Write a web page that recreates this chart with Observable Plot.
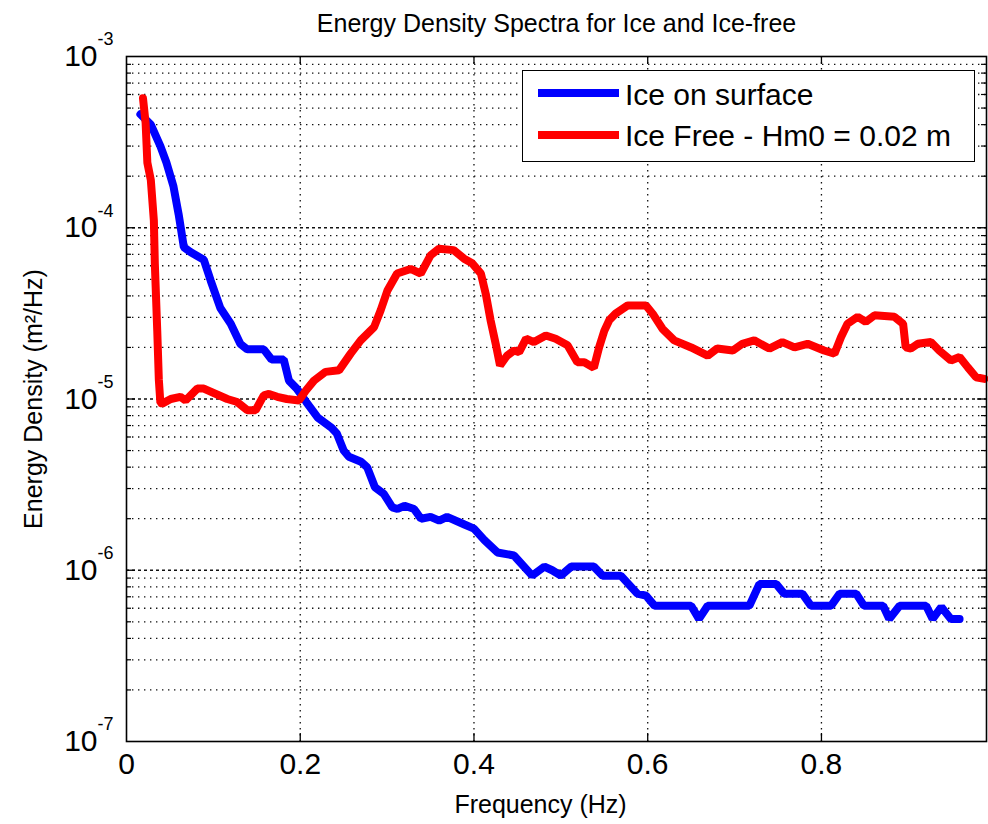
<!DOCTYPE html>
<html>
<head>
<meta charset="utf-8">
<script src="https://cdn.jsdelivr.net/npm/d3@7"></script>
<script src="https://cdn.jsdelivr.net/npm/@observablehq/plot@0.6"></script>
<style>
  html, body { margin: 0; padding: 0; background: #fff; }
  #wrap { position: relative; width: 988px; height: 824px; font-family: "Liberation Sans", Arial, sans-serif; }
  #legend { position: absolute; left: 522px; top: 70px; width: 453px; height: 92px; box-sizing: border-box;
            border: 1.5px solid #000; background: #fff; }
  .sw { position: absolute; left: 15px; width: 81px; height: 8px; }
  .lt { position: absolute; left: 102px; font-size: 30px; line-height: 30px; white-space: nowrap; color: #000; }
</style>
</head>
<body>
<div id="wrap"></div>
<script>
// ---- data ----
const titleText = "Energy Density Spectra for Ice and Ice-free";
const xLabel = "Frequency (Hz)";
const yLabel = "Energy Density (m\u00B2/Hz)";
const seriesNames = ["Ice on surface", "Ice Free - Hm0 = 0.02 m"];
const seriesColors = ["#0000ff", "#ff0000"];

const xTicks = [0, 0.2, 0.4, 0.6, 0.8];
const xTickLabels = ["0", "0.2", "0.4", "0.6", "0.8"];
const yDecades = [1e-7, 1e-6, 1e-5, 1e-4, 1e-3];
const yExponents = ["-7", "-6", "-5", "-4", "-3"];

const iceFreq = [0.016,0.028,0.039,0.046,0.054,0.060,0.066,0.074,0.089,0.097,0.108,0.120,0.131,0.139,0.158,0.167,0.181,0.187,0.196,0.207,0.220,0.236,0.242,0.250,0.256,0.270,0.277,0.286,0.296,0.306,0.312,0.320,0.331,0.339,0.350,0.360,0.369,0.389,0.400,0.412,0.427,0.446,0.467,0.481,0.490,0.500,0.512,0.538,0.548,0.569,0.588,0.598,0.608,0.650,0.659,0.669,0.717,0.7285,0.748,0.757,0.778,0.788,0.811,0.821,0.840,0.849,0.871,0.878,0.890,0.9205,0.928,0.938,0.949,0.959];
const iceVal = [4.6e-4,4.0e-4,3.0e-4,2.4e-4,1.75e-4,1.2e-4,7.7e-5,7.2e-5,6.5e-5,4.9e-5,3.4e-5,2.75e-5,2.1e-5,1.95e-5,1.95e-5,1.7e-5,1.7e-5,1.28e-5,1.15e-5,9.6e-6,7.8e-6,6.8e-6,6.3e-6,5.0e-6,4.6e-6,4.3e-6,4.0e-6,3.05e-6,2.8e-6,2.33e-6,2.28e-6,2.38e-6,2.28e-6,2.0e-6,2.05e-6,1.95e-6,2.05e-6,1.85e-6,1.75e-6,1.5e-6,1.27e-6,1.22e-6,9.3e-7,1.05e-6,1.0e-6,9.3e-7,1.05e-6,1.05e-6,9.3e-7,9.3e-7,7.3e-7,7.1e-7,6.2e-7,6.2e-7,5.2e-7,6.2e-7,6.2e-7,8.3e-7,8.3e-7,7.3e-7,7.3e-7,6.2e-7,6.2e-7,7.3e-7,7.3e-7,6.2e-7,6.2e-7,5.2e-7,6.2e-7,6.2e-7,5.2e-7,6.1e-7,5.2e-7,5.2e-7];

const freeFreq = [0.019,0.022,0.024,0.028,0.0315,0.0326,0.0354,0.0372,0.039,0.041,0.051,0.062,0.068,0.0815,0.089,0.116,0.1275,0.139,0.1486,0.158,0.164,0.1736,0.1846,0.1985,0.2065,0.2158,0.229,0.2446,0.258,0.2696,0.285,0.2926,0.3004,0.3115,0.327,0.3387,0.350,0.3598,0.3766,0.3886,0.398,0.408,0.4136,0.419,0.425,0.430,0.438,0.446,0.452,0.460,0.469,0.4827,0.494,0.5077,0.519,0.527,0.538,0.544,0.550,0.556,0.563,0.577,0.598,0.6057,0.617,0.6305,0.650,0.669,0.680,0.698,0.709,0.7226,0.740,0.755,0.769,0.784,0.803,0.815,0.8226,0.830,0.8418,0.851,0.861,0.884,0.894,0.897,0.903,0.911,0.926,0.9355,0.949,0.959,0.9685,0.978,0.9876];
const freeVal = [5.7e-4,4.1e-4,2.4e-4,1.9e-4,1.1e-4,6.2e-5,2.5e-5,1.3e-5,9.5e-6,9.4e-6,1.0e-5,1.03e-5,9.8e-6,1.15e-5,1.15e-5,1.0e-5,9.6e-6,8.6e-6,8.6e-6,1.05e-5,1.07e-5,1.03e-5,1.0e-5,9.8e-6,1.12e-5,1.28e-5,1.44e-5,1.47e-5,1.84e-5,2.2e-5,2.63e-5,3.3e-5,4.3e-5,5.4e-5,5.75e-5,5.4e-5,6.9e-5,7.55e-5,7.4e-5,6.6e-5,6.2e-5,5.4e-5,4.1e-5,2.9e-5,2.1e-5,1.57e-5,1.79e-5,1.92e-5,1.88e-5,2.25e-5,2.15e-5,2.35e-5,2.25e-5,2.06e-5,1.64e-5,1.64e-5,1.52e-5,2.0e-5,2.5e-5,2.9e-5,3.15e-5,3.52e-5,3.52e-5,3.15e-5,2.57e-5,2.2e-5,2.0e-5,1.79e-5,1.97e-5,1.92e-5,2.1e-5,2.2e-5,1.97e-5,2.15e-5,2.0e-5,2.1e-5,1.92e-5,1.84e-5,2.3e-5,2.75e-5,3.02e-5,2.82e-5,3.08e-5,3.02e-5,2.75e-5,2.0e-5,1.97e-5,2.1e-5,2.15e-5,1.92e-5,1.68e-5,1.76e-5,1.53e-5,1.34e-5,1.31e-5];

// ---- derived tables ----
const ice = iceFreq.map((f, i) => ({f, v: iceVal[i]}));
const free = freeFreq.map((f, i) => ({f, v: freeVal[i]}));
const yMinor = [];
yDecades.slice(0, -1).forEach(d => { for (let m = 2; m <= 9; m++) yMinor.push(d * m); });
const yInnerDecades = yDecades.slice(1, -1);
const xInner = xTicks.slice(1);
const expRows = yDecades.map((d, i) => ({v: d, e: yExponents[i]}));

const W = 988, H = 824, mL = 126, mR = 2, mT = 56, mB = 83;
const fw = W - mL - mR, fh = H - mT - mB;
const dot = {stroke: "#111", strokeWidth: 1.3, strokeDasharray: "1.4,4.6"};

const chart = Plot.plot({
  width: W, height: H,
  marginLeft: mL, marginRight: mR, marginTop: mT, marginBottom: mB,
  style: {fontFamily: "'Liberation Sans', Arial, sans-serif", background: "white", color: "black"},
  x: {domain: [0, 0.99], axis: null},
  y: {type: "log", domain: [1e-7, 1e-3], axis: null},
  marks: [
    // grid
    Plot.ruleX(xInner, {x: d => d, ...dot}),
    Plot.ruleY(yMinor, {y: d => d, ...dot}),
    Plot.ruleY(yInnerDecades, {y: d => d, stroke: "#111", strokeWidth: 1.3, strokeDasharray: "3,3"}),
    // data
    Plot.line(ice, {x: "f", y: "v", stroke: seriesColors[0], strokeWidth: 8, strokeLinejoin: "miter"}),
    Plot.line(free, {x: "f", y: "v", stroke: seriesColors[1], strokeWidth: 8, strokeLinejoin: "miter"}),
    // frame + inward ticks
    Plot.frame({stroke: "black", strokeWidth: 1.6}),
    Plot.ruleX(xInner, {x: d => d, insetTop: fh - 8, stroke: "black", strokeWidth: 1.3}),
    Plot.ruleX(xInner, {x: d => d, insetBottom: fh - 8, stroke: "black", strokeWidth: 1.3}),
    Plot.ruleY(yInnerDecades, {y: d => d, insetRight: fw - 9, stroke: "black", strokeWidth: 1.3}),
    Plot.ruleY(yInnerDecades, {y: d => d, insetLeft: fw - 9, stroke: "black", strokeWidth: 1.3}),
    Plot.ruleY(yMinor, {y: d => d, insetRight: fw - 5, stroke: "black", strokeWidth: 1.2}),
    Plot.ruleY(yMinor, {y: d => d, insetLeft: fw - 5, stroke: "black", strokeWidth: 1.2}),
    // tick labels
    Plot.text(xTicks, {x: d => d, text: (d, i) => xTickLabels[i], frameAnchor: "bottom", lineAnchor: "middle", dy: 23, fontSize: 30}),
    Plot.text(yDecades, {y: d => d, text: () => "10", frameAnchor: "left", textAnchor: "end", dx: -29, fontSize: 30}),
    Plot.text(expRows, {y: "v", text: "e", frameAnchor: "left", textAnchor: "start", dx: -29, dy: -17, fontSize: 18}),
    // titles
    Plot.text([titleText], {text: d => d, frameAnchor: "top", textAnchor: "middle", lineAnchor: "middle", dy: -33, fontSize: 25}),
    Plot.text([xLabel], {text: d => d, frameAnchor: "bottom", textAnchor: "middle", lineAnchor: "middle", dx: -16, dy: 63, fontSize: 25}),
    Plot.text([yLabel], {text: d => d, frameAnchor: "left", textAnchor: "middle", rotate: -90, lineAnchor: "middle", dx: -93, fontSize: 25})
  ]
});

const wrap = document.getElementById("wrap");
wrap.appendChild(chart);

const legend = document.createElement("div");
legend.id = "legend";
const rows = [{line: 21.5, text: 8.5}, {line: 63.5, text: 50}];
seriesNames.forEach((name, i) => {
  const sw = document.createElement("div");
  sw.className = "sw";
  sw.style.top = (rows[i].line - 4) + "px";
  sw.style.background = seriesColors[i];
  const t = document.createElement("div");
  t.className = "lt";
  t.style.top = rows[i].text + "px";
  t.textContent = name;
  legend.appendChild(sw);
  legend.appendChild(t);
});
wrap.appendChild(legend);
</script>
</body>
</html>
